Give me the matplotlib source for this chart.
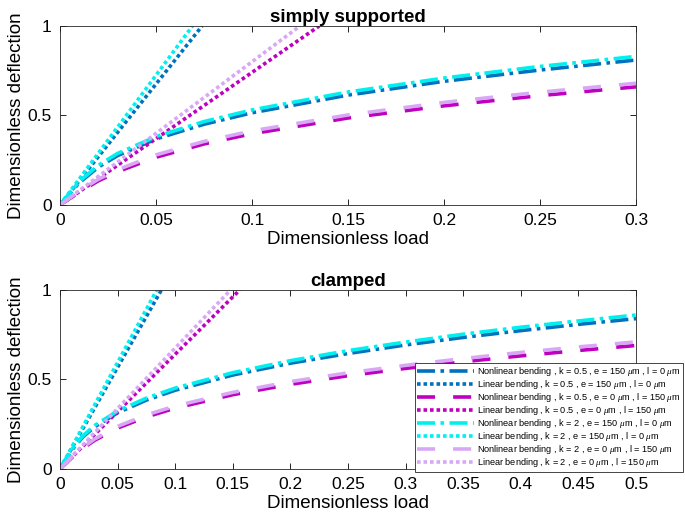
import matplotlib
matplotlib.use('Agg')
import matplotlib.pyplot as plt
import numpy as np

plt.rcParams['font.family'] = ['Liberation Sans', 'DejaVu Sans']
plt.rcParams['mathtext.fontset'] = 'custom'
plt.rcParams['mathtext.it'] = 'Liberation Serif:italic'

# ---------------- data ----------------
# simply supported, load 0..0.3
load_ss = [0, 0.01, 0.02, 0.03, 0.05, 0.075, 0.1, 0.15, 0.2, 0.25, 0.3]
nl_blue_ss = [0, 0.124, 0.212, 0.276, 0.369, 0.451, 0.515, 0.614, 0.691, 0.754, 0.81]
nl_mag_ss = [0, 0.072, 0.135, 0.186, 0.267, 0.341, 0.398, 0.486, 0.554, 0.611, 0.66]
nl_cyan_ss = [0, 0.131, 0.222, 0.288, 0.382, 0.466, 0.531, 0.631, 0.709, 0.774, 0.83]
nl_lil_ss = [0, 0.078, 0.144, 0.197, 0.28, 0.355, 0.414, 0.503, 0.573, 0.63, 0.68]
# linear lines: load where deflection reaches 1
lin_end_ss = [0.074, 0.135, 0.069, 0.125]

# clamped, load 0..0.5
load_cl = [0, 0.01, 0.02, 0.03, 0.05, 0.075, 0.1, 0.15, 0.2, 0.25, 0.3, 0.35, 0.4, 0.45, 0.5]
nl_blue_cl = [0, 0.104, 0.18, 0.235, 0.314, 0.385, 0.44, 0.525, 0.591, 0.645, 0.693, 0.735, 0.773, 0.808, 0.84]
nl_mag_cl = [0, 0.062, 0.116, 0.16, 0.229, 0.291, 0.34, 0.415, 0.473, 0.521, 0.562, 0.599, 0.632, 0.662, 0.69]
nl_cyan_cl = [0, 0.109, 0.186, 0.243, 0.324, 0.396, 0.452, 0.538, 0.605, 0.661, 0.709, 0.753, 0.792, 0.827, 0.86]
nl_lil_cl = [0, 0.065, 0.121, 0.167, 0.238, 0.302, 0.352, 0.428, 0.488, 0.537, 0.579, 0.617, 0.651, 0.682, 0.71]
lin_end_cl = [0.088, 0.156, 0.084, 0.148]

labels = [
    'Nonlinear bending , k = 0.5 , e = 150 $\\mu$m , l = 0 $\\mu$m',
    'Linear bending , k = 0.5 , e = 150 $\\mu$m , l = 0 $\\mu$m',
    'Nonlinear bending , k = 0.5 , e = 0 $\\mu$m , l = 150 $\\mu$m',
    'Linear bending , k = 0.5 , e = 0 $\\mu$m , l = 150 $\\mu$m',
    'Nonlinear bending , k = 2 , e = 150 $\\mu$m , l = 0 $\\mu$m',
    'Linear bending , k = 2 , e = 150 $\\mu$m , l = 0 $\\mu$m',
    'Nonlinear bending , k = 2 , e = 0 $\\mu$m , l = 150 $\\mu$m',
    'Linear bending , k = 2 , e = 0 $\\mu$m , l = 150 $\\mu$m',
]

c_blue = '#0072BD'
c_mag = '#BF00BF'
c_cyan = '#00F0F0'
c_lil = '#D8A8F5'
colors = [c_blue, c_mag, c_cyan, c_lil]
nl_styles = [(0, (5, 1.5, 1, 1.5)), (0, (5, 5)), (0, (5, 1.5, 1, 1.5)), (0, (5, 5))]
lw = 2.6


def draw(ax, load, nl_list, lin_end):
    handles = []
    for i in range(4):
        h1, = ax.plot(load, nl_list[i], color=colors[i], lw=lw, linestyle=nl_styles[i])
        h2, = ax.plot([0, lin_end[i]], [0, 1], color=colors[i], lw=lw, linestyle=(0, (1, 0.8)))
        handles += [h1, h2]
    ax.set_ylim(0, 1)
    ax.set_yticks([0, 0.5, 1])
    ax.set_yticklabels(['0', '0.5', '1'])
    ax.tick_params(direction='in', top=True, right=True, labelsize=12.5, length=4, width=0.6, pad=6)
    for s in ax.spines.values():
        s.set_linewidth(0.6)
        s.set_color('#262626')
    ax.set_ylabel('Dimensionless deflection', fontsize=13.5, labelpad=2)
    ax.set_xlabel('Dimensionless load', fontsize=13.5, labelpad=2)
    return handles


fig = plt.figure(figsize=(6.85, 5.26), dpi=100)
ax1 = fig.add_axes([0.0876, 0.6103, 0.8409, 0.3403])
ax2 = fig.add_axes([0.0876, 0.1084, 0.8409, 0.3403])

draw(ax1, load_ss, [nl_blue_ss, nl_mag_ss, nl_cyan_ss, nl_lil_ss], lin_end_ss)
ax1.set_xlim(0, 0.3)
ax1.set_xticks([0, 0.05, 0.1, 0.15, 0.2, 0.25, 0.3])
ax1.set_xticklabels(['0', '0.05', '0.1', '0.15', '0.2', '0.25', '0.3'])
ax1.set_title('simply supported', fontsize=13.5, fontweight='bold', pad=3)

hs = draw(ax2, load_cl, [nl_blue_cl, nl_mag_cl, nl_cyan_cl, nl_lil_cl], lin_end_cl)
ax2.set_xlim(0, 0.5)
ax2.set_xticks(np.arange(0, 0.51, 0.05))
ax2.set_xticklabels(['0', '0.05', '0.1', '0.15', '0.2', '0.25', '0.3', '0.35', '0.4', '0.45', '0.5'])
ax2.set_title('clamped', fontsize=13.5, fontweight='bold', pad=3)

leg = ax2.legend(hs, labels, loc='upper right', bbox_to_anchor=(1.082, 0.592),
                 fontsize=6.6, handlelength=6.2, handletextpad=0.4, labelspacing=0.0,
                 borderpad=0.25, borderaxespad=0, fancybox=False, framealpha=1)
leg.get_frame().set_edgecolor('#262626')
leg.get_frame().set_linewidth(0.6)

fig.savefig('out.png', dpi=100)
